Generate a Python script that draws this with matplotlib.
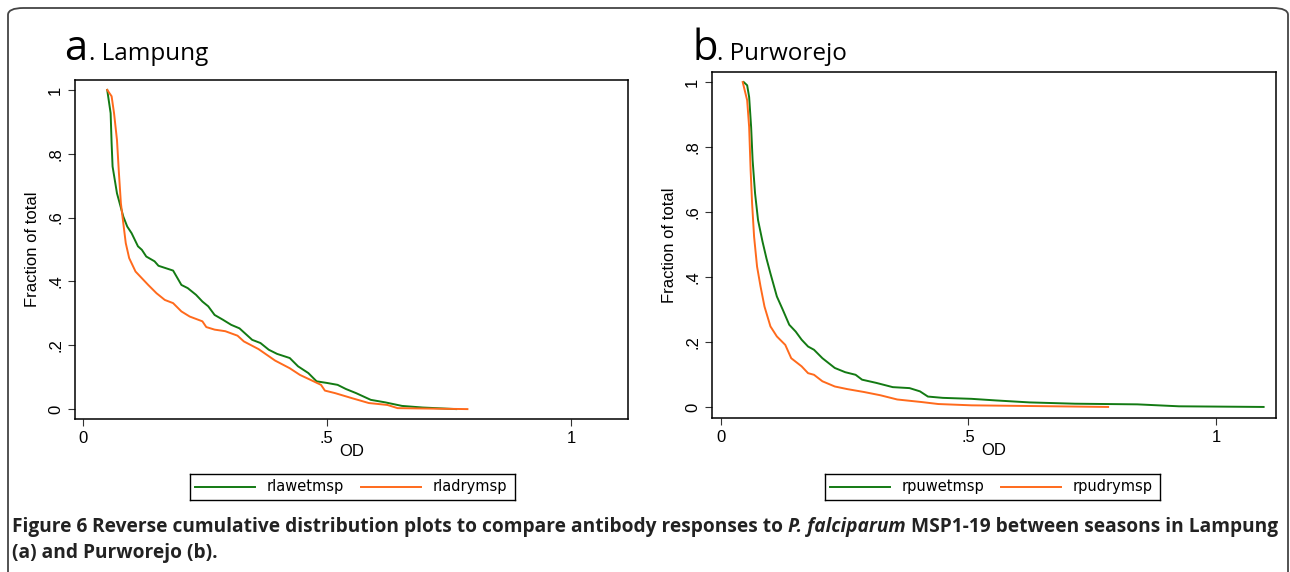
import matplotlib
matplotlib.use('Agg')
from matplotlib import pyplot as plt
from matplotlib.patches import FancyBboxPatch

# a. Lampung
la_wet_od = [0.050, 0.057, 0.059, 0.061, 0.070, 0.083, 0.091, 0.100, 0.113, 0.121, 0.130, 0.147,
             0.155, 0.185, 0.202, 0.215, 0.232, 0.245, 0.257, 0.270, 0.287, 0.304, 0.321, 0.347,
             0.364, 0.381, 0.398, 0.424, 0.441, 0.462, 0.479, 0.500, 0.522, 0.539, 0.560, 0.590,
             0.620, 0.654, 0.696, 0.765]
la_wet_frac = [1.000, 0.927, 0.833, 0.760, 0.676, 0.603, 0.572, 0.551, 0.510, 0.499, 0.478, 0.463,
               0.449, 0.434, 0.389, 0.379, 0.358, 0.337, 0.322, 0.295, 0.280, 0.264, 0.253, 0.217,
               0.207, 0.186, 0.173, 0.160, 0.134, 0.113, 0.087, 0.082, 0.076, 0.063, 0.050, 0.029,
               0.021, 0.010, 0.005, 0.000]
la_dry_od = [0.050, 0.059, 0.064, 0.070, 0.074, 0.078, 0.083, 0.088, 0.095, 0.108, 0.121, 0.134,
             0.151, 0.168, 0.185, 0.202, 0.219, 0.245, 0.253, 0.270, 0.292, 0.317, 0.330, 0.360,
             0.377, 0.394, 0.424, 0.445, 0.466, 0.488, 0.496, 0.517, 0.552, 0.586, 0.624, 0.645,
             0.788]
la_dry_frac = [1.000, 0.980, 0.927, 0.843, 0.739, 0.645, 0.582, 0.520, 0.473, 0.431, 0.410, 0.389,
               0.363, 0.342, 0.332, 0.306, 0.290, 0.275, 0.257, 0.249, 0.244, 0.230, 0.212, 0.188,
               0.170, 0.152, 0.128, 0.107, 0.092, 0.076, 0.058, 0.050, 0.034, 0.019, 0.013, 0.003,
               0.000]

# b. Purworejo
pu_wet_od = [0.046, 0.053, 0.057, 0.061, 0.064, 0.069, 0.075, 0.084, 0.092, 0.100, 0.113, 0.125,
             0.138, 0.151, 0.163, 0.176, 0.188, 0.205, 0.230, 0.251, 0.272, 0.285, 0.314, 0.347,
             0.381, 0.402, 0.418, 0.448, 0.506, 0.556, 0.623, 0.715, 0.841, 0.925, 1.096]
pu_wet_frac = [1.000, 0.990, 0.954, 0.862, 0.760, 0.657, 0.575, 0.509, 0.457, 0.411, 0.340, 0.299,
               0.253, 0.232, 0.207, 0.186, 0.176, 0.150, 0.120, 0.107, 0.099, 0.084, 0.074, 0.061,
               0.058, 0.048, 0.032, 0.028, 0.025, 0.020, 0.014, 0.010, 0.008, 0.002, 0.000]
pu_dry_od = [0.044, 0.053, 0.057, 0.060, 0.063, 0.067, 0.073, 0.080, 0.088, 0.100, 0.113, 0.130,
             0.142, 0.163, 0.176, 0.188, 0.205, 0.230, 0.255, 0.289, 0.322, 0.356, 0.406, 0.439,
             0.506, 0.674, 0.782]
pu_dry_frac = [1.000, 0.944, 0.862, 0.729, 0.626, 0.524, 0.432, 0.371, 0.309, 0.248, 0.217, 0.191,
               0.150, 0.125, 0.104, 0.099, 0.079, 0.063, 0.055, 0.046, 0.036, 0.023, 0.015, 0.009,
               0.005, 0.002, 0.000]

x_ticks = [0, 0.5, 1]
x_tick_labels = ['0', '.5', '1']
y_ticks = [0, 0.2, 0.4, 0.6, 0.8, 1]
y_tick_labels = ['0', '.2', '.4', '.6', '.8', '1']

green = '#137a13'
orange = '#ff6a1c'
W, H = 1290, 572

fig = plt.figure(figsize=(W / 100, H / 100), dpi=100)
plt.rcParams['font.family'] = ['Liberation Sans', 'DejaVu Sans']

# outer frame
frame = FancyBboxPatch((8 / W, -20 / H), (1280) / W, (H - 8 + 20) / H,
                       boxstyle='round,pad=0,rounding_size=0.012', transform=fig.transFigure,
                       fill=False, edgecolor='#444444', linewidth=1.3)
fig.patches.append(frame)


def px(x0, y0, x1, y1):
    return [x0 / W, 1 - y1 / H, (x1 - x0) / W, (y1 - y0) / H]


def make_panel(rect, xlim, ylim, curves, names, leg_rect, letter, place, tx):
    ax = fig.add_axes(px(*rect))
    for (x, y), c in zip(curves, [green, orange]):
        ax.plot(x, y, color=c, linewidth=1.4)
    ax.set_xlim(*xlim)
    ax.set_ylim(*ylim)
    ax.set_xticks(x_ticks)
    ax.set_xticklabels(x_tick_labels, fontsize=12)
    ax.set_yticks(y_ticks)
    ax.set_yticklabels(y_tick_labels, fontsize=12, rotation=90, va='center')
    ax.tick_params(direction='out', length=5, width=0.8, color='#333333')
    ax.set_xlabel('OD', fontsize=12, labelpad=-1)
    ax.set_ylabel('Fraction of total', fontsize=12, labelpad=6)
    for s in ax.spines.values():
        s.set_linewidth(1.1)
    lax = fig.add_axes(px(*leg_rect))
    lax.set_xticks([])
    lax.set_yticks([])
    for s in lax.spines.values():
        s.set_linewidth(1.0)
    lw = leg_rect[2] - leg_rect[0]
    lax.set_xlim(0, lw)
    lax.set_ylim(0, 1)
    for i, (n, c) in enumerate(zip(names, [green, orange])):
        x0 = 5 + i * lw * 0.51
        lax.plot([x0, x0 + 60], [0.5, 0.5], color=c, linewidth=1.4)
        lax.text(x0 + 72, 0.5, n, fontsize=10.5, va='center', ha='left',
                 family=['Liberation Sans Narrow', 'DejaVu Sans'])
    fig.text(tx / W, 1 - 60 / H, letter, fontsize=30, family=['Open Sans', 'DejaVu Sans'])
    fig.text((tx + 25) / W, 1 - 60 / H, place, fontsize=17.5, family=['Open Sans', 'DejaVu Sans'])
    return ax


make_panel((75, 80, 628, 419), (-0.016, 1.117), (-0.031, 1.031),
           [(la_wet_od, la_wet_frac), (la_dry_od, la_dry_frac)],
           ['rlawetmsp', 'rladrymsp'], (190, 474, 515, 500), 'a', '. Lampung', 64)
make_panel((712, 72, 1276, 418), (-0.018, 1.121), (-0.034, 1.031),
           [(pu_wet_od, pu_wet_frac), (pu_dry_od, pu_dry_frac)],
           ['rpuwetmsp', 'rpudrymsp'], (825, 474, 1160, 500), 'b', '. Purworejo', 692)

# caption, drawn piece by piece so the italic part sits inline
cap_font = ['Open Sans', 'DejaVu Sans']
line1 = [('Figure 6 ', 'normal'),
         ('Reverse cumulative distribution plots to compare antibody responses to ', 'normal'),
         ('P. falciparum', 'italic'),
         (' MSP1-19 between seasons in Lampung', 'normal')]
line2 = [('(a) and Purworejo (b).', 'normal')]
renderer = fig.canvas.get_renderer()
cap_size = 13.8
for line, yy in [(line1, 527), (line2, 553)]:
    x = 12
    for txt, style in line:
        t = fig.text(x / W, 1 - yy / H, txt, fontsize=cap_size, fontweight='bold', style=style,
                     family=cap_font, va='center', ha='left', color='#222222')
        bb = t.get_window_extent(renderer)
        x += bb.width

fig.savefig('out.png', dpi=100)
